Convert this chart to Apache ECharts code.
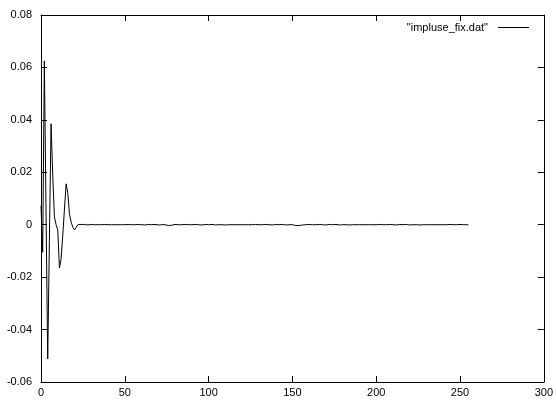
<!DOCTYPE html>
<html>
<head>
<meta charset="utf-8">
<script src="https://cdn.jsdelivr.net/npm/echarts@6/dist/echarts.min.js"></script>
<style>
html,body{margin:0;padding:0;background:#fff;}
#chart{width:556px;height:400px;}
</style>
</head>
<body>
<div id="chart"></div>
<script>
// Series name
const seriesName = '"impluse_fix.dat"';
// Sample values, index 0..255
const impulseValues = [
  0.0072, -0.0105, 0.0625, 0.0057, -0.0512, -0.0063, 0.0385, 0.0190, 0.0030, 0.0000,
  -0.0020, -0.0165, -0.0130, -0.0040, 0.0060, 0.0156, 0.0120, 0.0040, 0.0010, -0.0010,
  -0.0020, -0.0010, 0.0000, 0.0002, 0.0001, 0.0000, 0.0001, 0.0000, -0.0001, 0.0000,
  0.0001, 0.0000, 0.0000, 0.0001, 0.0000, -0.0001, 0.0000, 0.0000, 0.0001, 0.0000,
  0.0000, -0.0001, 0.0000, 0.0001, 0.0000, 0.0000, 0.0000, 0.0001, 0.0000, -0.0001,
  0.0000, 0.0000, 0.0001, 0.0000, 0.0000, -0.0001, 0.0000, 0.0000, 0.0001, 0.0000,
  0.0000, 0.0000, -0.0001, 0.0000, 0.0001, 0.0000, 0.0000, 0.0000, 0.0001, 0.0000,
  -0.0001, 0.0000, 0.0000, 0.0001, 0.0000, 0.0003, -0.0003, 0.0004, -0.0002, 0.0000,
  0.0001, 0.0000, 0.0000, -0.0001, 0.0000, 0.0000, 0.0001, 0.0000, 0.0000, -0.0001,
  0.0000, 0.0000, 0.0001, 0.0000, 0.0000, 0.0000, -0.0001, 0.0000, 0.0001, 0.0000,
  0.0000, 0.0000, 0.0001, 0.0000, -0.0001, 0.0000, 0.0000, 0.0001, 0.0000, 0.0000,
  -0.0001, 0.0000, 0.0000, 0.0001, 0.0000, 0.0000, 0.0000, -0.0001, 0.0000, 0.0001,
  0.0000, 0.0000, 0.0000, 0.0001, 0.0000, -0.0001, 0.0000, 0.0000, 0.0001, 0.0000,
  0.0000, -0.0001, 0.0000, 0.0000, 0.0001, 0.0000, 0.0000, 0.0000, -0.0001, 0.0000,
  0.0001, 0.0000, 0.0000, 0.0000, 0.0001, 0.0000, -0.0001, 0.0000, 0.0000, 0.0001,
  0.0000, 0.0003, -0.0003, 0.0004, -0.0003, 0.0002, -0.0001, 0.0001, 0.0000, 0.0000,
  0.0001, 0.0000, 0.0000, -0.0001, 0.0000, 0.0000, 0.0001, 0.0000, 0.0000, 0.0000,
  -0.0001, 0.0000, 0.0001, 0.0000, 0.0000, 0.0000, 0.0001, 0.0000, -0.0001, 0.0000,
  0.0000, 0.0001, 0.0000, 0.0000, -0.0001, 0.0000, 0.0000, 0.0001, 0.0000, 0.0000,
  0.0000, -0.0001, 0.0000, 0.0001, 0.0000, 0.0000, 0.0000, 0.0001, 0.0000, -0.0001,
  0.0000, 0.0000, 0.0001, 0.0000, 0.0000, -0.0001, 0.0000, 0.0000, 0.0001, 0.0000,
  0.0000, 0.0000, -0.0001, 0.0000, 0.0001, 0.0000, 0.0000, 0.0000, 0.0001, 0.0000,
  -0.0001, 0.0000, 0.0000, 0.0001, 0.0000, 0.0000, -0.0001, 0.0000, 0.0000, 0.0001,
  0.0000, 0.0000, 0.0000, -0.0001, 0.0000, 0.0001, 0.0000, 0.0000, 0.0000, 0.0001,
  0.0000, -0.0001, 0.0000, 0.0000, 0.0001, 0.0000, 0.0000, -0.0001, 0.0000, 0.0000,
  0.0001, 0.0000, 0.0000, 0.0000, 0.0000, 0.0000
];
// Axis settings
const xMin = 0, xMax = 300, xStep = 50;
const yMin = -0.06, yMax = 0.08, yStep = 0.02;

const seriesData = impulseValues.map((v, i) => [i, v]);

const font = 'Liberation Sans, Arial, Helvetica, sans-serif';
const axisLine = { show: true, onZero: false, lineStyle: { color: '#000', width: 1 } };
const tick = { show: true, inside: true, length: 6, lineStyle: { color: '#000', width: 1 } };
const lbl = { color: '#000', fontSize: 11, fontFamily: font };

const chart = echarts.init(document.getElementById('chart'), null, { renderer: 'canvas' });
chart.setOption({
  animation: false,
  backgroundColor: '#fff',
  grid: { left: 41, right: 11, top: 15, bottom: 18, containLabel: false },
  legend: {
    right: 22, top: 17, align: 'right',
    itemWidth: 31, itemHeight: 1, icon: 'rect',
    textStyle: { color: '#000', fontSize: 11, fontFamily: font, padding: [0, 5, 0, 0] },
    data: [seriesName]
  },
  xAxis: [
    { type: 'value', position: 'bottom', min: xMin, max: xMax, interval: xStep,
      axisLine: axisLine, axisTick: tick, splitLine: { show: false },
      axisLabel: Object.assign({ margin: 5 }, lbl) },
    { type: 'value', position: 'top', min: xMin, max: xMax, interval: xStep,
      axisLine: axisLine, axisTick: tick, splitLine: { show: false },
      axisLabel: { show: false } }
  ],
  yAxis: [
    { type: 'value', position: 'left', min: yMin, max: yMax, interval: yStep,
      axisLine: axisLine, axisTick: tick, splitLine: { show: false },
      axisLabel: Object.assign({ margin: 9,
        formatter: v => String(parseFloat(Number(v).toFixed(2))) }, lbl) },
    { type: 'value', position: 'right', min: yMin, max: yMax, interval: yStep,
      axisLine: axisLine, axisTick: tick, splitLine: { show: false },
      axisLabel: { show: false } }
  ],
  series: [{
    name: seriesName,
    type: 'line',
    xAxisIndex: 0, yAxisIndex: 0,
    data: seriesData,
    showSymbol: false,
    symbol: 'none',
    lineStyle: { color: '#000', width: 1 },
    itemStyle: { color: '#000' }
  }]
});
</script>
</body>
</html>
